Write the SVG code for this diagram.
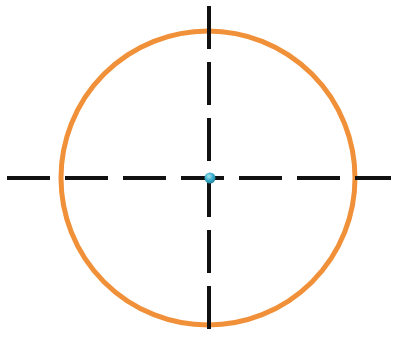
<svg xmlns="http://www.w3.org/2000/svg" width="393" height="342" viewBox="0 0 393 342">
<defs>
<radialGradient id="dotg" cx="0.4" cy="0.35" r="0.7">
<stop offset="0" stop-color="#a8e6f2"/>
<stop offset="0.5" stop-color="#3fb0cc"/>
<stop offset="1" stop-color="#1f7f9c"/>
</radialGradient>
<style>
.axis{stroke:#111;stroke-width:4;fill:none}
.ring{stroke:#f0913a;stroke-width:5;fill:none}
</style>
</defs>
<rect width="393" height="342" fill="#ffffff"/>
<g id="circle">
<circle class="ring" cx="208" cy="178" r="147"/>
</g>
<g id="axes">
<line class="axis" x1="7" y1="178" x2="391" y2="178" stroke-dasharray="43 15"/>
<line class="axis" x1="209" y1="6" x2="209" y2="339" stroke-dasharray="43 13"/>
</g>
<g id="center">
<circle cx="210" cy="178" r="5.5" fill="url(#dotg)"/>
</g>
</svg>
